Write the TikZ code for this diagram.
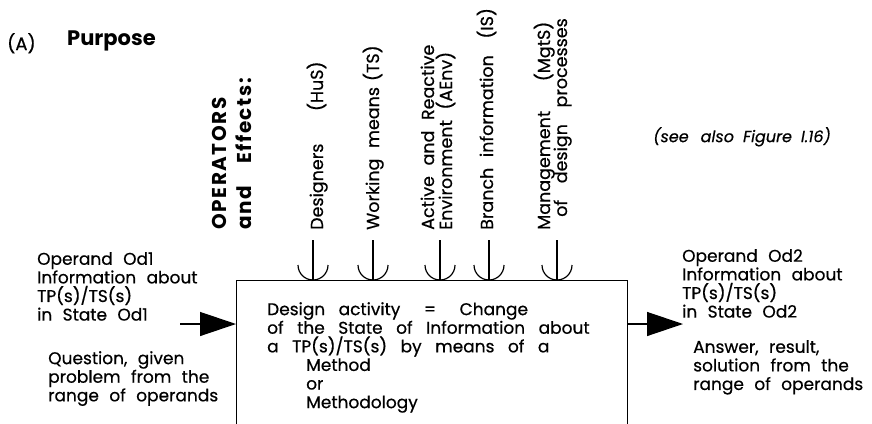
\documentclass[tikz,border=0pt]{standalone}
\usepackage{fontspec}
\setmainfont{Poppins}
\newfontfamily\txtfont{Poppins}[FakeBold=0.5]
\newfontfamily\headfont{Poppins}[LetterSpace=8]
\usetikzlibrary{arrows.meta}
\newcommand{\gap}{\hspace{6pt}}
\begin{document}
\begin{tikzpicture}[x=1pt,y=-1pt,
  lbl/.style={inner sep=0pt, align=left,
    font={\txtfont\fontsize{17}{18.6}\selectfont\spaceskip 10.4pt\relax}},
  oplbl/.style={lbl, rotate=90, anchor=base west,
    font={\txtfont\fontsize{17.5}{19}\selectfont\spaceskip 10.6pt\relax}},
  headlbl/.style={lbl, rotate=90, anchor=base west,
    font={\headfont\fontsize{20}{22}\selectfont\bfseries\spaceskip 10pt\relax}},
  flow/.style={line width=1.3pt, -{Triangle[length=36pt,width=24pt]}},
  opline/.style={line width=1.2pt}]
\useasboundingbox (0,0) rectangle (872,423);

% heading
\node[lbl, anchor=north west, font={\txtfont\fontsize{18}{22}\selectfont}] (tag) at (7,33) {(A)};
\node[lbl, anchor=north west, font={\fontsize{21}{22}\selectfont\bfseries}] (purpose) at (67,31) {Purpose};
\node[lbl, anchor=north west,
      font={\txtfont\fontsize{16}{17}\selectfont\itshape\spaceskip 9pt\relax}] (see) at (653,127)
  {(see\hspace{3pt} also Figure I.16)};

% the activity box (open towards the bottom edge)
\node[draw, line width=1.3pt, anchor=north west, minimum width=391pt,
      minimum height=200pt, inner sep=0pt] (box) at (236,280) {};

\node[lbl, anchor=north west,
      font={\txtfont\fontsize{17}{18.6}\selectfont\spaceskip 13.5pt\relax}] (act) at (267,302)
  {Design activity\hspace{10pt} =\hspace{10pt} Change\\
   of the State of Information about\\
   a TP(s)/TS(s) by means of a\\
   \hspace*{39pt}Method\\
   \hspace*{39pt}or\\
   \hspace*{39pt}Methodology};

% operands
\node[lbl, anchor=north west] (od1) at (37,252)
  {Operand Od1\\Information about\\TP(s)/TS(s)\\in State Od1};
\node[lbl, anchor=north west] (q) at (48,351)
  {Question, given\\problem from the\\range of operands};
\node[lbl, anchor=north west] (od2) at (682,249)
  {Operand Od2\\Information about\\TP(s)/TS(s)\\in State Od2};
\node[lbl, anchor=north west] (ans) at (693,340)
  {Answer, result,\\solution from the\\range of operands};

\coordinate (inS) at (180,324);
\coordinate (outE) at (683,324);
\draw[flow] (inS) -- (inS -| box.west);
\draw[flow] (outE -| box.east) -- (outE);

% operators
\node[headlbl] (opA) at (226,230) {OPERATORS};
\node[headlbl] (opB) at (251,230) {and\hspace{12pt} Effects:};
\node[oplbl] (hus) at (323,230) {Designers\hspace{22pt} (HuS)};
\node[oplbl] (ts) at (379,230) {Working means\gap (TS)};
\node[oplbl] (aenvA) at (434,230) {Active and Reactive};
\node[oplbl] (aenvB) at (452,230) {Environment (AEnv)};
\node[oplbl] (is) at (493,230) {Branch information\gap\ (IS)};
\node[oplbl] (mgtA) at (550,230) {Management\hspace{19pt} (MgtS)};
\node[oplbl] (mgtB) at (567,217) {of\gap\ design\gap\ processes};

\foreach \n/\x in {1/313,2/373,3/440,4/489,5/557}{
  \coordinate (o\n) at (\x,240);
  \draw[opline] (o\n) -- (o\n |- box.north);
  \draw[opline] ([shift={(-15,-15)}]o\n |- box.north)
      arc[start angle=180, end angle=0, radius=15];
}
\end{tikzpicture}
\end{document}
